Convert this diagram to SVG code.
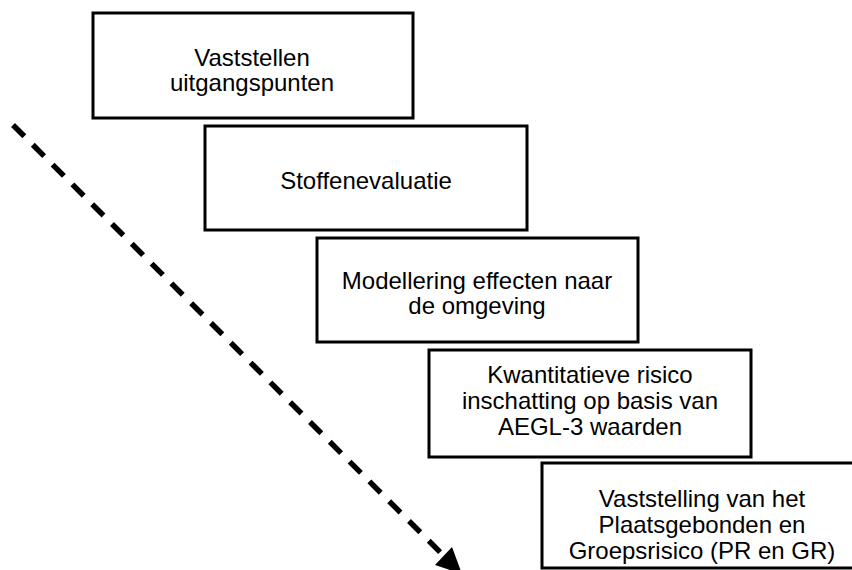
<svg xmlns="http://www.w3.org/2000/svg" width="852" height="570" viewBox="0 0 852 570">
<style>
.box{fill:#fff;stroke:#000;stroke-width:3}
.t{font-family:"Liberation Sans",Arial,sans-serif;font-size:24px;fill:#000;text-anchor:middle}
</style>
<rect width="852" height="570" fill="#fff"/>
<g id="connectors">
<line x1="13" y1="125" x2="444" y2="556" stroke="#000" stroke-width="5.5" stroke-dasharray="16,12"/>
<polygon points="452,547 435,565 462,574" fill="#000"/>
</g>
<g id="n1">
<rect class="box" x="93" y="13" width="320" height="105"/>
<text class="t" x="252" y="66">Vaststellen</text>
<text class="t" x="252" y="91">uitgangspunten</text>
</g>
<g id="n2">
<rect class="box" x="205" y="126" width="322" height="104"/>
<text class="t" x="366" y="189">Stoffenevaluatie</text>
</g>
<g id="n3">
<rect class="box" x="317" y="238" width="321" height="104"/>
<text class="t" x="477" y="289">Modellering effecten naar</text>
<text class="t" x="477" y="314">de omgeving</text>
</g>
<g id="n4">
<rect class="box" x="429" y="350" width="322" height="107"/>
<text class="t" x="590" y="383">Kwantitatieve risico</text>
<text class="t" x="590" y="409">inschatting op basis van</text>
<text class="t" x="590" y="435">AEGL-3 waarden</text>
</g>
<g id="n5">
<rect class="box" x="542" y="463" width="320" height="105"/>
<text class="t" x="702" y="507">Vaststelling van het</text>
<text class="t" x="702" y="533">Plaatsgebonden en</text>
<text class="t" x="702" y="559">Groepsrisico (PR en GR)</text>
</g>
</svg>
